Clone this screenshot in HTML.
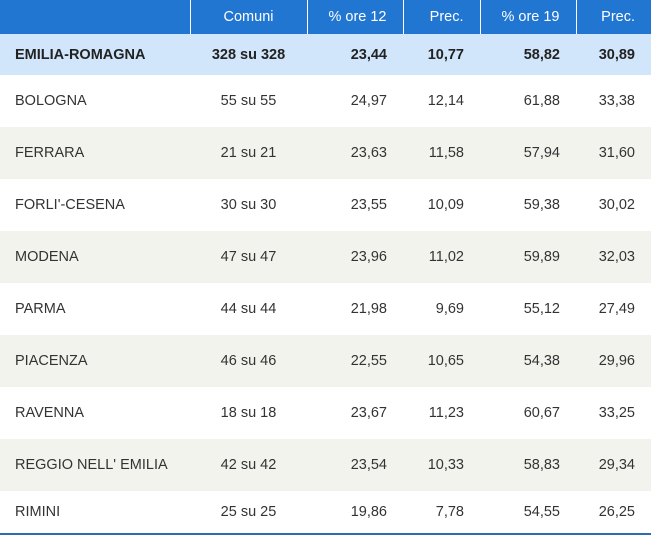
<!DOCTYPE html>
<html><head><meta charset="utf-8"><style>
body{margin:0;width:651px;height:538px;background:#fff;font-family:"Liberation Sans Narrow","Liberation Sans",sans-serif;font-size:14.5px;color:#333;overflow:hidden}
table{border-collapse:collapse;width:651px;table-layout:fixed}
th{background:#2176d2;color:#fff;font-weight:normal;height:34px;padding:0;border-left:1px solid #fff}
th:first-child{border-left:none}
td{padding:0;height:52px}
tr.tot td{background:#d2e6fb;font-weight:bold;height:41px;color:#222}
tr.alt td{background:#f3f3ee}
.l{text-align:left;padding-left:15px}
.c{text-align:center}
.r{text-align:right;padding-right:16px}
tr.last td{height:42px;border-bottom:2px solid #2a6db5}
</style></head><body>
<table>
<colgroup><col style="width:190px"><col style="width:117px"><col style="width:96px"><col style="width:77px"><col style="width:96px"><col style="width:75px"></colgroup>
<tr><th></th><th class="c">Comuni</th><th class="r">% ore 12</th><th class="r">Prec.</th><th class="r">% ore 19</th><th class="r">Prec.</th></tr>
<tr class="tot"><td class="l">EMILIA-ROMAGNA</td><td class="c">328 su 328</td><td class="r">23,44</td><td class="r">10,77</td><td class="r">58,82</td><td class="r">30,89</td></tr>
<tr><td class="l">BOLOGNA</td><td class="c">55 su 55</td><td class="r">24,97</td><td class="r">12,14</td><td class="r">61,88</td><td class="r">33,38</td></tr>
<tr class="alt"><td class="l">FERRARA</td><td class="c">21 su 21</td><td class="r">23,63</td><td class="r">11,58</td><td class="r">57,94</td><td class="r">31,60</td></tr>
<tr><td class="l">FORLI'-CESENA</td><td class="c">30 su 30</td><td class="r">23,55</td><td class="r">10,09</td><td class="r">59,38</td><td class="r">30,02</td></tr>
<tr class="alt"><td class="l">MODENA</td><td class="c">47 su 47</td><td class="r">23,96</td><td class="r">11,02</td><td class="r">59,89</td><td class="r">32,03</td></tr>
<tr><td class="l">PARMA</td><td class="c">44 su 44</td><td class="r">21,98</td><td class="r">9,69</td><td class="r">55,12</td><td class="r">27,49</td></tr>
<tr class="alt"><td class="l">PIACENZA</td><td class="c">46 su 46</td><td class="r">22,55</td><td class="r">10,65</td><td class="r">54,38</td><td class="r">29,96</td></tr>
<tr><td class="l">RAVENNA</td><td class="c">18 su 18</td><td class="r">23,67</td><td class="r">11,23</td><td class="r">60,67</td><td class="r">33,25</td></tr>
<tr class="alt"><td class="l">REGGIO NELL' EMILIA</td><td class="c">42 su 42</td><td class="r">23,54</td><td class="r">10,33</td><td class="r">58,83</td><td class="r">29,34</td></tr>
<tr class="last"><td class="l">RIMINI</td><td class="c">25 su 25</td><td class="r">19,86</td><td class="r">7,78</td><td class="r">54,55</td><td class="r">26,25</td></tr>
</table>
</body></html>
